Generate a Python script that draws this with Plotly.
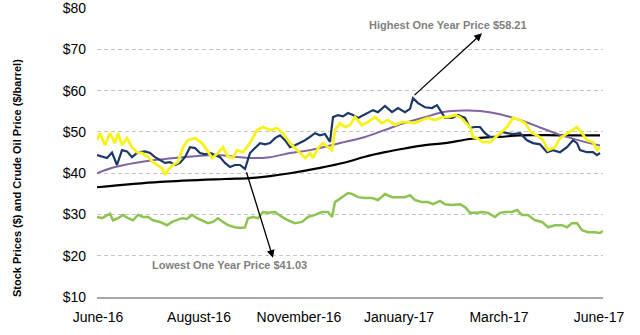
import plotly.graph_objects as go

# trading-day index (June-16 .. June-17) and prices
blue_t = [0, 2.5, 5, 7.5, 10, 12.5, 15, 17.5, 20.5, 24, 26.5, 29, 31.5, 34, 36.5, 39, 41.5, 44, 46.5, 49,
          51.5, 54, 56.5, 59, 61.5, 64, 66.5, 69, 71.5, 74, 76.5, 79, 81.5, 84, 86.5, 89, 91.5, 94, 96.5, 99,
          101.5, 104, 106.5, 109, 111.5, 114, 116.5, 118, 120.5, 123, 125.5, 128, 130.5, 133, 135.5, 138,
          140.5, 144, 147.5, 150.5, 154, 156.5, 158, 160.5, 164, 167.5, 170, 172.5, 174, 177.5, 180.5, 184,
          186.5, 189, 191.5, 194, 196.5, 200, 202.5, 205, 208, 211.5, 215, 218, 221.5, 225, 228, 231.5, 235,
          238, 240, 241.5, 245, 248, 250, 251.5]
blue_v = [44.4, 44.0, 43.7, 45.0, 42.0, 45.6, 45.3, 43.9, 45.1, 45.3, 44.9, 43.9, 43.2, 42.5, 42.7, 42.0, 42.5,
          43.9, 46.3, 46.1, 44.9, 44.6, 44.9, 44.4, 43.9, 42.5, 41.5, 42.0, 42.0, 41.03, 44.9, 46.1, 47.3, 47.0,
          47.3, 48.5, 49.2, 48.0, 46.3, 46.8, 47.3, 48.0, 48.8, 49.7, 49.2, 49.5, 47.6, 53.6, 54.1, 53.8, 54.6,
          54.1, 53.4, 54.1, 54.6, 55.3, 54.8, 56.3, 54.8, 55.8, 54.8, 55.6, 58.21, 57.0, 56.0, 55.8, 56.5, 54.6,
          53.4, 53.4, 54.1, 53.4, 51.0, 51.2, 51.2, 49.7, 48.8, 48.8, 50.0, 49.7, 49.5, 49.7, 48.0, 47.3, 47.0,
          45.1, 45.6, 45.1, 46.3, 48.0, 47.3, 45.6, 45.1, 45.1, 44.4, 44.9]

yellow_t = [0, 1.5, 4, 6.5, 9, 10.5, 12.5, 15, 17.5, 20, 22.5, 25.5, 28, 30.5, 32.5, 34, 35.5, 38, 40.5, 43,
            45.5, 49, 52.5, 55, 57.5, 60.5, 63, 65.5, 68, 70, 73, 76.5, 80, 83, 86.5, 90, 93, 96.5, 99, 101.5,
            104, 106.5, 108, 110.5, 113, 115.5, 117.5, 119, 121.5, 124, 126.5, 129, 132.5, 135.5, 139, 142.5,
            145.5, 149, 152.5, 155.5, 159, 162.5, 165.5, 169, 172.5, 175.5, 179, 181.5, 184, 186.5, 188, 190,
            193, 196.5, 201.5, 205, 208, 211.5, 214, 217.5, 220, 223, 225.5, 229, 231.5, 235, 237.5, 240,
            242.5, 245, 248, 250, 251.5]
yellow_v = [48.0, 49.7, 46.8, 49.7, 47.3, 49.7, 46.8, 48.5, 46.3, 45.1, 44.9, 43.9, 42.7, 42.0, 41.25, 39.6,
            40.8, 42.0, 42.7, 46.3, 48.0, 48.5, 47.3, 45.6, 43.7, 44.9, 46.3, 44.0, 43.7, 45.6, 45.1, 47.3,
            50.45, 51.2, 50.45, 50.9, 49.7, 47.3, 46.1, 45.1, 43.7, 44.9, 43.7, 46.1, 47.3, 46.3, 45.6, 50.45,
            52.15, 51.2, 51.7, 53.6, 51.7, 52.4, 53.6, 52.15, 52.9, 51.7, 52.4, 52.4, 52.15, 52.9, 53.4, 52.9,
            53.6, 53.6, 54.1, 53.6, 52.4, 51.2, 48.75, 48.5, 47.55, 47.55, 49.7, 51.2, 53.4, 52.9, 52.15, 49.7,
            49.2, 48.0, 45.6, 46.3, 48.5, 49.7, 50.45, 51.2, 49.7, 48.0, 47.55, 45.6, 46.3]

purple_t = [0, 9, 19, 29, 39, 49, 59, 69, 76.5, 86.5, 96.5, 106.5, 116.5, 124, 134, 144, 154, 164, 174, 184,
            191.5, 201.5, 211.5, 221.5, 231.5, 241.5, 251.5]
purple_v = [40.0, 41.5, 42.5, 43.2, 43.7, 44.1, 44.4, 44.0, 43.7, 43.9, 44.9, 45.6, 46.7, 47.6, 48.8, 50.5,
            52.2, 53.6, 54.9, 55.2, 55.1, 54.3, 52.9, 51.1, 49.3, 47.9, 46.7]

black_t = [0, 31.5, 64, 76.5, 86.5, 96.5, 111.5, 124, 134, 144, 154, 164, 174, 186.5, 196.5, 201.5, 211.5,
           231.5, 251.5]
black_v = [36.6, 37.9, 38.6, 38.8, 39.3, 40.0, 41.3, 42.6, 44.0, 45.1, 46.0, 46.8, 47.3, 48.3, 48.75, 48.8,
           49.2, 49.2, 49.2]

green_t = [0, 2.5, 6.5, 8, 10.5, 13, 15.5, 18, 20.5, 23, 25.5, 28, 31.5, 35, 37.5, 40, 42.5, 45, 47.5, 50,
           52.5, 55.5, 58, 60.5, 63, 65.5, 69, 71.5, 74, 75.5, 78, 80.5, 83, 85.5, 89, 92.5, 95.5, 99, 102.5,
           105.5, 109, 112.5, 115.5, 117.5, 119, 122.5, 125.5, 127.5, 130.5, 134, 137.5, 140.5, 144, 147.5,
           150.5, 154, 156.5, 159, 162.5, 165.5, 168, 171.5, 174, 177.5, 181.5, 184, 186.5, 190, 192.5, 195.5,
           199, 201.5, 204, 207.5, 210, 212.5, 215.5, 219, 222.5, 225.5, 229, 232.5, 235, 237.5, 240, 242.5,
           245.5, 249, 251.5, 253]
green_v = [29.4, 29.1, 30.2, 28.6, 29.1, 29.9, 29.1, 28.6, 29.9, 29.4, 29.4, 28.6, 28.2, 27.4, 28.2, 28.6,
           29.1, 28.9, 29.9, 29.1, 28.6, 27.9, 28.2, 29.1, 28.2, 27.4, 26.9, 26.7, 26.9, 29.1, 29.4, 29.1, 30.6,
           30.4, 30.6, 29.4, 28.6, 27.9, 28.2, 29.4, 29.9, 30.6, 30.6, 29.4, 33.0, 34.2, 35.2, 35.0, 34.2, 34.0,
           34.0, 33.5, 34.95, 34.2, 34.2, 34.2, 34.7, 33.5, 33.0, 33.0, 32.5, 33.3, 32.5, 32.3, 32.5, 31.8,
           30.4, 30.4, 30.6, 30.4, 29.4, 30.4, 30.6, 30.6, 31.1, 29.9, 29.9, 28.6, 28.2, 26.9, 27.4, 27.4, 26.9,
           27.9, 27.9, 26.2, 25.7, 25.7, 25.5, 26.0]

tick_pos = [0.5, 51, 101, 151, 201, 251]
tick_labels = ["June-16", "August-16", "November-16", "January-17", "March-17", "June-17"]
y_ticks = [10, 20, 30, 40, 50, 60, 70, 80]
y_tick_labels = ["$10", "$20", "$30", "$40", "$50", "$60", "$70", "$80"]

high_label = "Highest One Year Price $58.21"
low_label = "Lowest One Year Price $41.03"

fig = go.Figure()
fig.add_trace(go.Scatter(x=green_t, y=green_v, mode="lines", line=dict(color="#8DC451", width=2.5)))
fig.add_trace(go.Scatter(x=black_t, y=black_v, mode="lines", line=dict(color="#000000", width=2.2, shape="spline")))
fig.add_trace(go.Scatter(x=purple_t, y=purple_v, mode="lines", line=dict(color="#8064A2", width=2, shape="spline")))
fig.add_trace(go.Scatter(x=blue_t, y=blue_v, mode="lines", line=dict(color="#1B3866", width=2.2)))
fig.add_trace(go.Scatter(x=yellow_t, y=yellow_v, mode="lines", line=dict(color="#F7F21A", width=2.8)))

# arrows
fig.add_annotation(x=192.5, y=73.9, ax=158, ay=58.6, xref="x", yref="y", axref="x", ayref="y",
                   text="", showarrow=True, arrowhead=2, arrowsize=1.2, arrowwidth=1.3, arrowcolor="#000000")
fig.add_annotation(x=88, y=19.5, ax=74.5, ay=40.6, xref="x", yref="y", axref="x", ayref="y",
                   text="", showarrow=True, arrowhead=2, arrowsize=1.2, arrowwidth=1.3, arrowcolor="#000000")
fig.add_annotation(x=175.5, y=76.0, xref="x", yref="y", text=high_label, showarrow=False,
                   font=dict(family="Arial, Liberation Sans", size=11, color="#7F7F7F", weight="bold"))
fig.add_annotation(x=66, y=17.8, xref="x", yref="y", text=low_label, showarrow=False,
                   font=dict(family="Arial, Liberation Sans", size=11, color="#7F7F7F", weight="bold"))
# y title
fig.add_annotation(x=-88 / 506, y=(297 - 178) / 289, xref="paper", yref="paper",
                   text="Stock Prices ($) and Crude Oil Price ($/barrel)", textangle=-90, showarrow=False,
                   font=dict(family="Arial, Liberation Sans", size=11, color="#000000", weight="bold"))

fig.update_layout(
    width=640, height=335,
    margin=dict(l=97, r=37, t=8, b=38),
    paper_bgcolor="white", plot_bgcolor="white",
    showlegend=False,
    font=dict(family="Arial, Liberation Sans", size=14, color="#000000"),
)
fig.update_xaxes(range=[0, 253], tickvals=tick_pos, ticktext=tick_labels, showgrid=False, zeroline=False,
                 showline=True, linecolor="#A6A6A6", linewidth=1.5, ticks="", ticklabelstandoff=6,
                 tickfont=dict(size=14), automargin=False)
fig.update_yaxes(range=[10, 80.05], tickvals=y_ticks, ticktext=y_tick_labels, showgrid=True,
                 gridcolor="#C4C4C4", griddash="4px,3px", gridwidth=1, zeroline=False, showline=False,
                 ticks="", ticklabelstandoff=10, tickfont=dict(size=14), automargin=False)

fig.write_html("out.html")
